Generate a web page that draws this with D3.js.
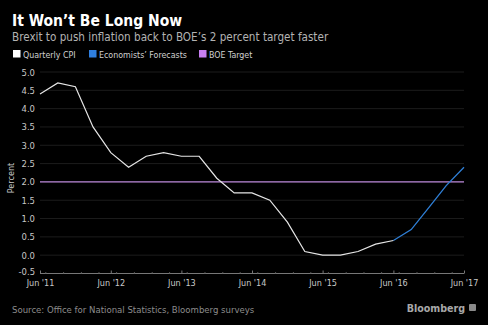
<!DOCTYPE html>
<html>
<head>
<meta charset="utf-8">
<script src="https://cdn.jsdelivr.net/npm/d3@7"></script>
<style>
  html, body { margin: 0; padding: 0; background: #000; }
  svg { display: block; }
  text { font-family: "DejaVu Sans", "Verdana", sans-serif; font-stretch: semi-condensed; }
</style>
</head>
<body>
<script>
// UK CPI, quarterly (year-on-year %), with economists' forecasts
const cpiDates = ["2011-06","2011-09","2011-12","2012-03","2012-06","2012-09","2012-12",
  "2013-03","2013-06","2013-09","2013-12","2014-03","2014-06","2014-09","2014-12",
  "2015-03","2015-06","2015-09","2015-12","2016-03","2016-06"];
const cpiValues = [4.4,4.7,4.6,3.5,2.8,2.4,2.7,2.8,2.7,2.7,2.1,1.7,1.7,1.5,0.9,0.1,0.0,0.0,0.1,0.3,0.4];
const forecastDates = ["2016-06","2016-09","2016-12","2017-03","2017-06"];
const forecastValues = [0.4,0.7,1.3,1.9,2.4];
const boeTarget = 2.0;
const yTicks = [-0.5,0.0,0.5,1.0,1.5,2.0,2.5,3.0,3.5,4.0,4.5,5.0];
const xTickDates = ["2011-06","2012-06","2013-06","2014-06","2015-06","2016-06","2017-06"];
const xTickLabels = ["Jun '11","Jun '12","Jun '13","Jun '14","Jun '15","Jun '16","Jun '17"];

const W = 488, H = 325;
const parse = d3.timeParse("%Y-%m");
const svg = d3.select("body").append("svg").attr("width", W).attr("height", H);
svg.append("rect").attr("width", W).attr("height", H).attr("fill", "#000");

const x = d3.scaleTime().domain([parse("2011-06"), parse("2017-06")]).range([40, 464]);
const y = d3.scaleLinear().domain([-0.5, 5.0]).range([273.5, 72]);

// Title block
svg.append("text").attr("x", 12).attr("y", 26).attr("fill", "#fff")
  .attr("font-size", 15.5).attr("font-weight", "bold").text("It Won’t Be Long Now");
svg.append("text").attr("x", 12).attr("y", 41).attr("fill", "#b3b3b3")
  .attr("font-size", 11.6).text("Brexit to push inflation back to BOE’s 2 percent target faster");

// Legend
const legend = [
  { label: "Quarterly CPI", color: "#ffffff", x: 13 },
  { label: "Economists’ Forecasts", color: "#2f7fe0", x: 89 },
  { label: "BOE Target", color: "#c77ff2", x: 199 }
];
const lg = svg.append("g");
legend.forEach(d => {
  lg.append("rect").attr("x", d.x).attr("y", 50).attr("width", 7.5).attr("height", 7.5).attr("fill", d.color);
  lg.append("text").attr("x", d.x + 10).attr("y", 57.5).attr("fill", "#d0d0d0")
    .attr("font-size", 8.8).text(d.label);
});

// Horizontal gridlines
svg.append("g").selectAll("line").data(yTicks).join("line")
  .attr("x1", 40).attr("x2", 464)
  .attr("y1", d => y(d)).attr("y2", d => y(d))
  .attr("stroke", "#1c1c1c").attr("stroke-width", 1);

// Y axis labels
const yAxis = d3.axisLeft(y).tickValues(yTicks).tickFormat(d3.format(".1f")).tickSize(0).tickPadding(3);
const yg = svg.append("g").attr("transform", "translate(38,0)").call(yAxis);
yg.select(".domain").remove();
yg.selectAll("text").attr("fill", "#c8c8c8").attr("font-size", 9.4)
  .text(d => d3.format(".1f")(d).replace("−", "-"));
yg.selectAll(".tick").filter(d => d === -0.5).select("text").attr("dy", "0.1em");

svg.append("text").attr("transform", `translate(14,178) rotate(-90)`)
  .attr("text-anchor", "middle").attr("fill", "#c8c8c8").attr("font-size", 9).text("Percent");

// X axis
const xAxis = d3.axisBottom(x).tickValues(xTickDates.map(parse))
  .tickFormat((d, i) => xTickLabels[i]).tickSize(3).tickPadding(3);
const xg = svg.append("g").attr("transform", `translate(0,${y(-0.5)})`).call(xAxis);
xg.select(".domain").attr("stroke", "#777").attr("d", `M40,0H464`);
xg.selectAll(".tick line").attr("stroke", "#777").attr("y1", -3).attr("y2", 0);
xg.selectAll("text").attr("fill", "#c8c8c8").attr("font-size", 9);

// Minor quarter ticks along the axis
const quarters = d3.timeMonth.every(3).range(parse("2011-06"), parse("2017-07"));
svg.append("g").selectAll("line").data(quarters).join("line")
  .attr("x1", d => x(d)).attr("x2", d => x(d))
  .attr("y1", y(-0.5) - 1.5).attr("y2", y(-0.5))
  .attr("stroke", "#555");

// BOE target line
svg.append("line").attr("x1", 40).attr("x2", 464)
  .attr("y1", y(boeTarget)).attr("y2", y(boeTarget))
  .attr("stroke", "#b784d6").attr("stroke-width", 1.2);

const line = d3.line().x(d => x(d[0])).y(d => y(d[1]));

svg.append("path")
  .datum(forecastDates.map((d, i) => [parse(d), forecastValues[i]]))
  .attr("d", line).attr("fill", "none").attr("stroke", "#2f7fd6").attr("stroke-width", 1.3);

svg.append("path")
  .datum(cpiDates.map((d, i) => [parse(d), cpiValues[i]]))
  .attr("d", line).attr("fill", "none").attr("stroke", "#e6e6e6").attr("stroke-width", 1.2);

// Footer
svg.append("text").attr("x", 12).attr("y", 313).attr("fill", "#8c8c8c")
  .attr("font-size", 9.5).text("Source: Office for National Statistics, Bloomberg surveys");
svg.append("text").attr("x", 465).attr("y", 312).attr("text-anchor", "end").attr("fill", "#a8a8a8")
  .attr("font-size", 10.6).attr("font-weight", "bold").text("Bloomberg");
svg.append("rect").attr("x", 469).attr("y", 304).attr("width", 7).attr("height", 7)
  .attr("fill", "#8a8a8a").attr("rx", 1);
</script>
</body>
</html>
